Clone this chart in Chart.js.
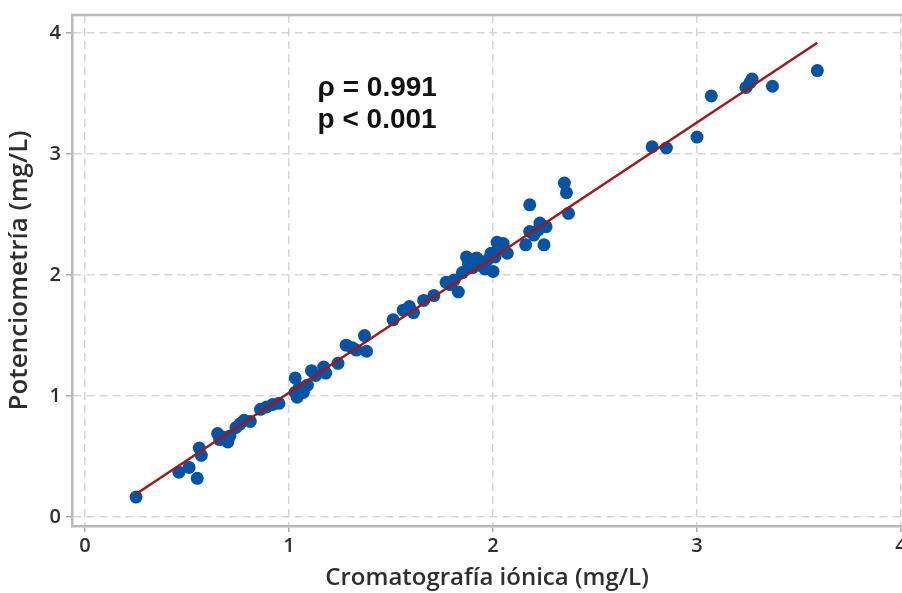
<!DOCTYPE html>
<html>
<head>
<meta charset="utf-8">
<script src="https://cdn.jsdelivr.net/npm/chart.js@4"></script>
<style>
  html, body { margin: 0; padding: 0; background: #ffffff; }
  canvas { display: block; }
</style>
</head>
<body>
<canvas id="grafico" width="902" height="593"></canvas>
<script>
// ========== DATOS ==========
const cromatografia = [
  0.25, 0.46, 0.51, 0.55, 0.56, 0.57, 0.65, 0.66, 0.68, 0.70,
  0.71, 0.74, 0.76, 0.78, 0.81, 0.86, 0.89, 0.92, 0.95, 1.03,
  1.03, 1.04, 1.05, 1.07, 1.09, 1.11, 1.13, 1.17, 1.18, 1.24,
  1.28, 1.31, 1.33, 1.37, 1.38, 1.51, 1.56, 1.59, 1.61, 1.66,
  1.71, 1.77, 1.79, 1.81, 1.83, 1.85, 1.87, 1.88, 1.90, 1.92,
  1.93, 1.95, 1.96, 1.97, 1.99, 2.00, 2.01, 2.02, 2.03, 2.05,
  2.07, 2.16, 2.18, 2.18, 2.20, 2.22, 2.23, 2.25, 2.26, 2.35,
  2.36, 2.37, 2.78, 2.85, 3.00, 3.07, 3.24, 3.26, 3.27, 3.37,
  3.59
];
const potenciometria = [
  0.165, 0.37, 0.41, 0.32, 0.57, 0.51, 0.69, 0.64, 0.66, 0.62,
  0.67, 0.74, 0.77, 0.80, 0.79, 0.89, 0.91, 0.93, 0.94, 1.15,
  1.03, 0.99, 1.07, 1.03, 1.09, 1.21, 1.17, 1.24, 1.19, 1.27,
  1.42, 1.40, 1.38, 1.50, 1.37, 1.63, 1.71, 1.74, 1.69, 1.79,
  1.83, 1.94, 1.92, 1.96, 1.86, 2.02, 2.15, 2.09, 2.06, 2.14,
  2.08, 2.10, 2.05, 2.12, 2.18, 2.03, 2.15, 2.27, 2.22, 2.26,
  2.18, 2.25, 2.58, 2.36, 2.33, 2.37, 2.43, 2.25, 2.40, 2.76,
  2.68, 2.51, 3.06, 3.05, 3.14, 3.48, 3.55, 3.59, 3.62, 3.56,
  3.69
];
// recta de ajuste (extremos)
const ajusteX = [0.25, 3.59];
const ajusteY = [0.19, 3.92];

const ticksX = [0, 1, 2, 3, 4];
const ticksY = [0, 1, 2, 3, 4];

const textoRho = "ρ = 0.991";
const textoP = "p < 0.001";

// ========== GRAFICO ==========
const puntos = cromatografia.map((x, i) => ({ x: x, y: potenciometria[i] }));
const recta = ajusteX.map((x, i) => ({ x: x, y: ajusteY[i] }));

const colorMarco = '#b9b9b9';
const colorGrilla = '#d6d6d6';
const colorTexto = '#2e2e2e';

const marcoSuperior = {
  id: 'marcoSuperior',
  afterDraw(chart) {
    const { ctx, chartArea } = chart;
    ctx.save();
    ctx.strokeStyle = colorMarco;
    ctx.lineWidth = 2.5;
    ctx.beginPath();
    ctx.moveTo(chartArea.left - 1, chartArea.top);
    ctx.lineTo(chartArea.right, chartArea.top);
    ctx.stroke();
    ctx.restore();
  }
};

const textoCorrelacion = {
  id: 'textoCorrelacion',
  afterDraw(chart) {
    const { ctx, scales } = chart;
    const x = scales.x.getPixelForValue(1.14);
    ctx.save();
    ctx.font = 'bold 28px "Liberation Sans", Arial, sans-serif';
    ctx.fillStyle = '#111111';
    ctx.textAlign = 'left';
    ctx.textBaseline = 'alphabetic';
    ctx.fillText(textoRho, x, scales.y.getPixelForValue(3.48));
    ctx.fillText(textoP, x, scales.y.getPixelForValue(3.215));
    ctx.restore();
  }
};

new Chart(document.getElementById('grafico'), {
  type: 'scatter',
  data: {
    datasets: [
      {
        type: 'line',
        label: 'Ajuste',
        data: recta,
        borderColor: '#a01818',
        borderWidth: 2.5,
        pointRadius: 0,
        fill: false
      },
      {
        label: 'Muestras',
        data: puntos,
        backgroundColor: '#0652a3',
        borderColor: '#0652a3',
        borderWidth: 0,
        pointRadius: 6.5,
        pointHoverRadius: 6.5
      }
    ]
  },
  options: {
    responsive: false,
    animation: false,
    layout: { autoPadding: false, padding: { top: 15, left: 0, right: 0, bottom: 0 } },
    plugins: {
      legend: { display: false },
      tooltip: { enabled: false }
    },
    scales: {
      x: {
        type: 'linear',
        min: -0.064,
        max: 4.005,
        afterBuildTicks(scale) { scale.ticks = ticksX.map(v => ({ value: v })); },
        afterFit(scale) {
          scale.height = 67;
          scale.paddingLeft = 0;
          scale.paddingRight = 0;
        },
        ticks: {
          padding: 2,
          color: colorTexto,
          font: { family: '"Open Sans", sans-serif', size: 20, weight: '600' }
        },
        grid: {
          color: colorGrilla,
          lineWidth: 1.5,
          tickColor: '#a8a8a8',
          tickLength: 6,
          tickWidth: 1.5
        },
        border: { display: true, color: colorMarco, width: 2.5, dash: [8, 5] },
        title: {
          display: true,
          text: 'Cromatografía iónica (mg/L)',
          color: colorTexto,
          padding: { top: 0, bottom: 0 },
          font: { family: '"Open Sans", sans-serif', size: 24, weight: '600' }
        }
      },
      y: {
        type: 'linear',
        min: -0.074,
        max: 4.149,
        afterBuildTicks(scale) { scale.ticks = ticksY.map(v => ({ value: v })); },
        afterFit(scale) {
          scale.width = 72;
          scale.paddingTop = 0;
          scale.paddingBottom = 0;
        },
        ticks: {
          padding: 5,
          color: colorTexto,
          font: { family: '"Open Sans", sans-serif', size: 20, weight: '600' }
        },
        grid: {
          color: colorGrilla,
          lineWidth: 1.5,
          tickColor: '#a8a8a8',
          tickLength: 6,
          tickWidth: 1.5
        },
        border: { display: true, color: colorMarco, width: 2.5, dash: [8, 5] },
        title: {
          display: true,
          text: 'Potenciometría (mg/L)',
          color: colorTexto,
          padding: { top: 4, bottom: 0 },
          font: { family: '"Open Sans", sans-serif', size: 26, weight: '600' }
        }
      }
    }
  },
  plugins: [marcoSuperior, textoCorrelacion]
});
</script>
</body>
</html>
